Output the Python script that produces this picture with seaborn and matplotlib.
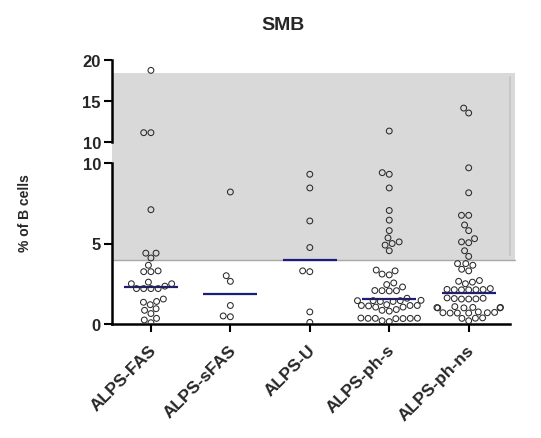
import warnings
warnings.filterwarnings("ignore")
import matplotlib
matplotlib.use("Agg")
import matplotlib.pyplot as plt
import matplotlib.transforms as mtransforms
from matplotlib.patches import Rectangle
from matplotlib.lines import Line2D
import seaborn as sns
import pandas as pd

# ---------------- data ----------------
categories = ["ALPS-FAS", "ALPS-sFAS", "ALPS-U", "ALPS-ph-s", "ALPS-ph-ns"]

alps_fas = [18.7, 11.1, 11.1, 7.1, 4.4, 4.1, 4.4, 3.65, 3.3, 3.25, 3.25,
            2.5, 2.6, 2.5, 2.2, 2.2, 2.2, 2.2, 2.35, 1.55, 1.35, 1.4, 1.2,
            0.85, 0.95, 0.65, 0.35, 0.25, 0.08]
alps_sfas = [8.2, 3.0, 2.65, 1.15, 0.5, 0.45]
alps_u = [9.3, 8.45, 6.4, 4.75, 3.3, 3.25, 0.75, 0.1]
alps_ph_s = [11.3, 9.3, 9.4, 8.45, 7.05, 6.45, 5.8, 5.35, 5.0, 5.1, 4.9, 4.55,
             3.3, 3.05, 3.1, 3.35, 2.55, 2.45, 2.3, 2.07, 2.07, 2.05, 2.08,
             1.6, 1.45, 1.4, 1.45, 1.47, 1.4, 1.45,
             1.15, 1.05, 1.15, 1.2, 1.05, 1.12, 1.15,
             0.9, 0.85, 0.8,
             0.35, 0.37, 0.33, 0.35, 0.36, 0.34, 0.35,
             0.2, 0.15]
alps_ph_ns = [14.1, 13.5, 9.7, 8.15, 6.75, 6.75, 6.15, 5.8, 5.1, 5.05, 5.3, 4.55, 4.2,
              3.65, 3.4, 3.3, 3.75, 3.75,
              2.65, 2.5, 2.6, 2.7,
              2.13, 2.12, 2.14, 2.13, 2.12, 2.15, 2.2,
              1.55, 1.56, 1.58, 1.55, 1.6, 1.62,
              1.0, 1.02, 1.0, 1.08, 1.03, 1.03, 1.0,
              0.7, 0.68, 0.68, 0.75, 0.68, 0.72, 0.7,
              0.35, 0.38, 0.36, 0.2]
medians = [2.3, 1.85, 4.0, 1.53, 1.93]

normal_low = 4.0
normal_high = 18.4

title = "SMB"
ylabel = "% of B cells"
lower_ticks = [0, 5, 10]
upper_ticks = [10, 15, 20]

# ---------------- build frame ----------------
groups = [alps_fas, alps_sfas, alps_u, alps_ph_s, alps_ph_ns]
df = pd.DataFrame({
    "group": [c for c, g in zip(categories, groups) for _ in g],
    "value": [v for g in groups for v in g],
})
df_lo = df[df["value"] <= 10]
df_up = df[df["value"] > 10]

sns.set_theme(style="white")
plt.rcParams["font.family"] = ["Liberation Sans", "DejaVu Sans"]

W, H = 541, 439
fig = plt.figure(figsize=(W / 100, H / 100), dpi=100)


def fx(px):
    return px / W


def fy(py):
    return 1 - py / H


ax_lo = fig.add_axes([fx(112), fy(325), fx(510) - fx(112), fy(164) - fy(325)])
ax_up = fig.add_axes([fx(112), fy(142.7), fx(510) - fx(112), fy(60.7) - fy(142.7)])

xlim = (-0.49, 4.52)
for ax, sub, yl in [(ax_lo, df_lo, (0, 10)), (ax_up, df_up, (10, 20))]:
    ax.patch.set_facecolor("none")
    sns.swarmplot(data=sub, x="group", y="value", order=categories, ax=ax,
                  size=4.2, color="black", zorder=4)
    for coll in ax.collections:
        coll.set_facecolor("none")
        coll.set_edgecolor("#2a2a2a")
        coll.set_linewidth(0.75)
    ax.set_xlim(*xlim)
    ax.set_ylim(*yl)
    ax.set_xlabel("")
    ax.set_ylabel("")
    for s in ["top", "right"]:
        ax.spines[s].set_visible(False)
    ax.spines["left"].set_linewidth(1.8)
    ax.spines["left"].set_color("black")
    ax.tick_params(axis="y", direction="out", length=6, width=1.5, color="black",
                   labelsize=12, pad=2, left=True)

# median lines
ax_lo.hlines(medians, [i - 0.34 for i in range(len(categories))],
             [i + 0.34 for i in range(len(categories))],
             colors="#1c1c80", linewidth=1.6, zorder=3)

ax_lo.set_yticks(lower_ticks)
ax_up.set_yticks(upper_ticks)
for ax in (ax_lo, ax_up):
    for lab in ax.get_yticklabels():
        lab.set_fontweight("bold")

ax_up.spines["bottom"].set_visible(False)
ax_up.set_xticks([])
ax_lo.spines["bottom"].set_linewidth(1.8)
ax_lo.spines["bottom"].set_color("black")
ax_lo.tick_params(axis="x", direction="out", length=6, width=1.5, color="black",
                  labelsize=12.5, pad=10, bottom=True)
ax_lo.set_xticks(range(len(categories)))
ax_lo.set_xticklabels(categories, rotation=45, ha="right", va="center",
                      rotation_mode="anchor", fontweight="bold")
offset = mtransforms.ScaledTranslation(3 / 100, -1 / 100, fig.dpi_scale_trans)
for lab in ax_lo.get_xticklabels():
    lab.set_transform(lab.get_transform() + offset)

# normal range shading across both panels
inv = fig.transFigure.inverted()
x0 = inv.transform(ax_lo.transData.transform((xlim[0], 0)))[0]
x1 = inv.transform(ax_lo.transData.transform((4.58, 0)))[0]
y0 = inv.transform(ax_lo.transData.transform((0, normal_low)))[1]
y1 = inv.transform(ax_up.transData.transform((0, normal_high)))[1]
fig.add_artist(Rectangle((x0, y0), x1 - x0, y1 - y0, transform=fig.transFigure,
                         facecolor="#d9d9d9", edgecolor="none", zorder=-1))
fig.add_artist(Line2D([x0, x1], [y0, y0], transform=fig.transFigure,
                      color="#a8a8a8", linewidth=1.0, zorder=-0.5))
xv = inv.transform(ax_lo.transData.transform((4.525, 0)))[0]
fig.add_artist(Line2D([xv, xv], [y0 + 0.01, y1 - 0.01], transform=fig.transFigure,
                      color="#c4c4c4", linewidth=1.2, zorder=-0.5))

fig.text(fx(283), fy(26), title, ha="center", va="center", fontsize=14,
         fontweight="bold")
fig.text(fx(25), fy(213), ylabel, ha="center", va="center", rotation=90,
         fontsize=10, fontweight="bold")

fig.savefig("out.png", dpi=100)
